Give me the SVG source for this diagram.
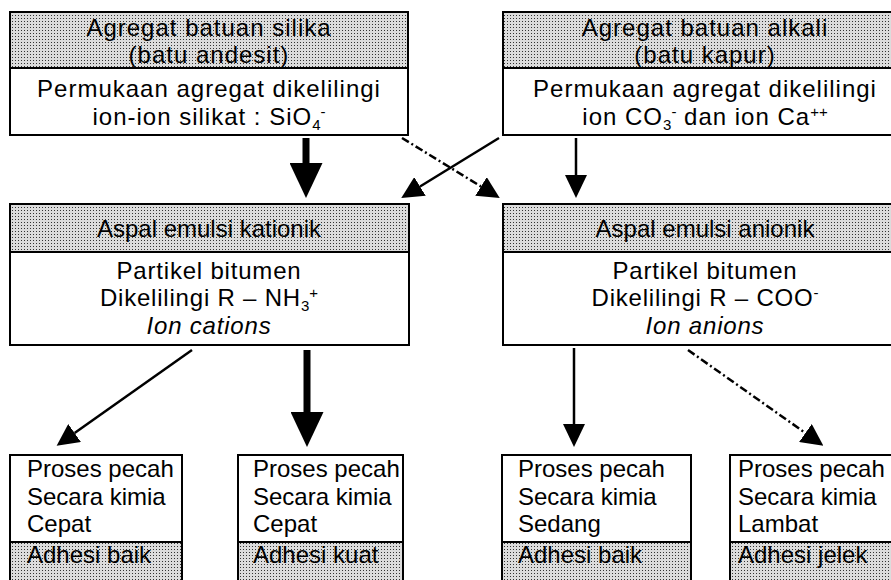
<svg xmlns="http://www.w3.org/2000/svg" width="891" height="580" viewBox="0 0 891 580">
<defs>
  <pattern id="dots" width="3" height="3" patternUnits="userSpaceOnUse">
    <rect width="3" height="3" fill="#dcdcdc"/>
    <rect width="1" height="1" fill="#333"/>
  </pattern>
  <marker id="hBig" markerUnits="userSpaceOnUse" markerWidth="35" markerHeight="33" viewBox="0 0 35 33" refX="0" refY="16.5" orient="auto">
    <path d="M0,0 L35,16.5 L0,33 z" fill="#000"/>
  </marker>
  <marker id="hSmall" markerUnits="userSpaceOnUse" markerWidth="23" markerHeight="22" viewBox="0 0 23 22" refX="0" refY="11" orient="auto">
    <path d="M0,0 L23,11 L0,22 z" fill="#000"/>
  </marker>
  <marker id="hDiag" markerUnits="userSpaceOnUse" markerWidth="22" markerHeight="22" viewBox="0 0 22 22" refX="0" refY="11" orient="auto">
    <path d="M0,0 L22,11 L0,22 z" fill="#000"/>
  </marker>
</defs>
<style>
  .box { fill: #fff; stroke: #000; stroke-width: 2; }
  .shade { fill: url(#dots); stroke: #000; stroke-width: 2; }
  text { font-family: "Liberation Sans", Arial, sans-serif; fill: #000; }
  .top { font-size: 24px; letter-spacing: 1px; text-anchor: middle; }
  .hd { font-size: 24px; text-anchor: middle; }
  .mid { font-size: 24px; letter-spacing: 0.8px; text-anchor: middle; }
  .t24 { font-size: 24px; }
  .it { font-style: italic; }
  .sm { font-size: 15px; letter-spacing: 0; }
  .solid { stroke: #000; fill: none; stroke-width: 2.5; }
  .thick { stroke: #000; fill: none; stroke-width: 7; }
  .dash { stroke: #000; fill: none; stroke-width: 2.5; stroke-dasharray: 8 3 2 3; }
</style>
<rect width="891" height="580" fill="#fff"/>

<g id="silika">
  <rect class="box" x="10" y="12" width="398" height="123"/>
  <rect class="shade" x="10" y="12" width="398" height="56"/>
  <text class="top" x="209" y="36">Agregat batuan silika</text>
  <text class="top" x="209" y="63">(batu andesit)</text>
  <text class="top" x="209" y="97">Permukaan agregat dikelilingi</text>
  <text class="top" x="209" y="125">ion-ion silikat : SiO<tspan class="sm" dy="5">4</tspan><tspan class="sm" dy="-13">-</tspan></text>
</g>

<g id="alkali">
  <rect class="box" x="503" y="12" width="400" height="123"/>
  <rect class="shade" x="503" y="12" width="400" height="56"/>
  <text class="top" x="705" y="36">Agregat batuan alkali</text>
  <text class="top" x="705" y="63">(batu kapur)</text>
  <text class="top" x="705" y="97">Permukaan agregat dikelilingi</text>
  <text class="top" x="705" y="125">ion CO<tspan class="sm" dy="5">3</tspan><tspan class="sm" dy="-13">-</tspan><tspan dy="8"> dan ion Ca</tspan><tspan class="sm" dy="-8">++</tspan></text>
</g>

<g id="kationik">
  <rect class="box" x="10" y="204" width="399" height="141"/>
  <rect class="shade" x="10" y="204" width="399" height="48"/>
  <text class="hd" x="209" y="237">Aspal emulsi kationik</text>
  <text class="mid" x="209" y="279">Partikel bitumen</text>
  <text class="mid" x="209" y="306">Dikelilingi R – NH<tspan class="sm" dy="5">3</tspan><tspan class="sm" dy="-13">+</tspan></text>
  <text class="mid it" x="209" y="334">Ion cations</text>
</g>

<g id="anionik">
  <rect class="box" x="503" y="204" width="400" height="141"/>
  <rect class="shade" x="503" y="204" width="400" height="48"/>
  <text class="hd" x="705" y="237">Aspal emulsi anionik</text>
  <text class="mid" x="705" y="279">Partikel bitumen</text>
  <text class="mid" x="705" y="306">Dikelilingi R – COO<tspan class="sm" dy="-8">-</tspan></text>
  <text class="mid it" x="705" y="334">Ion anions</text>
</g>

<g id="hasil1">
  <rect class="box" x="10" y="455" width="172" height="140"/>
  <rect class="shade" x="10" y="542" width="172" height="53"/>
  <text class="t24" x="27" y="477">Proses pecah</text>
  <text class="t24" x="27" y="505">Secara kimia</text>
  <text class="t24" x="27" y="532">Cepat</text>
  <text class="t24" x="27" y="563">Adhesi baik</text>
</g>

<g id="hasil2">
  <rect class="box" x="238" y="455" width="165" height="140"/>
  <rect class="shade" x="238" y="542" width="165" height="53"/>
  <text class="t24" x="253" y="477">Proses pecah</text>
  <text class="t24" x="253" y="505">Secara kimia</text>
  <text class="t24" x="253" y="532">Cepat</text>
  <text class="t24" x="253" y="563">Adhesi kuat</text>
</g>

<g id="hasil3">
  <rect class="box" x="502" y="455" width="189" height="140"/>
  <rect class="shade" x="502" y="542" width="189" height="53"/>
  <text class="t24" x="518" y="477">Proses pecah</text>
  <text class="t24" x="518" y="505">Secara kimia</text>
  <text class="t24" x="518" y="532">Sedang</text>
  <text class="t24" x="518" y="563">Adhesi baik</text>
</g>

<g id="hasil4">
  <rect class="box" x="730" y="455" width="180" height="140"/>
  <rect class="shade" x="730" y="542" width="180" height="53"/>
  <text class="t24" x="738" y="477">Proses pecah</text>
  <text class="t24" x="738" y="505">Secara kimia</text>
  <text class="t24" x="738" y="532">Lambat</text>
  <text class="t24" x="738" y="563">Adhesi jelek</text>
</g>

<g id="connectors">
  <line class="thick" x1="306" y1="138" x2="306" y2="163" marker-end="url(#hBig)"/>
  <line class="dash" x1="402" y1="138" x2="481" y2="186.5" marker-end="url(#hDiag)"/>
  <line class="solid" x1="499" y1="138" x2="420" y2="186.5" marker-end="url(#hDiag)"/>
  <line class="solid" x1="576" y1="138" x2="576" y2="175" marker-end="url(#hSmall)"/>
  <line class="solid" x1="192" y1="350" x2="74.6" y2="433" marker-end="url(#hDiag)"/>
  <line class="thick" x1="307" y1="350" x2="307" y2="412" marker-end="url(#hBig)"/>
  <line class="solid" x1="574" y1="348" x2="574" y2="424" marker-end="url(#hSmall)"/>
  <line class="dash" x1="688" y1="350" x2="805.4" y2="433" marker-end="url(#hDiag)"/>
</g>
</svg>
